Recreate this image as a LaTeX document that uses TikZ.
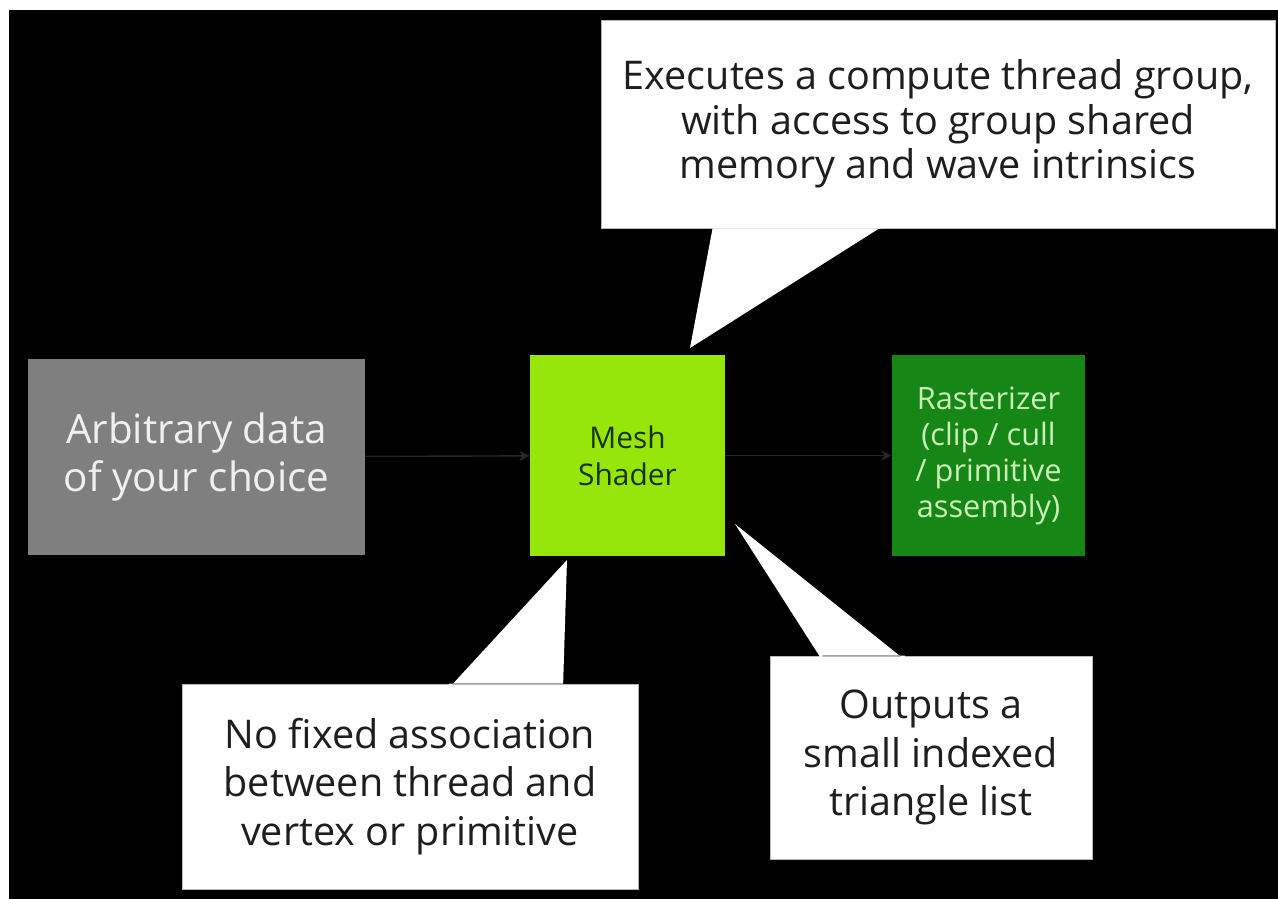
\documentclass[tikz,border=0pt]{standalone}
\usepackage{fontspec}
\setmainfont{Open Sans}
\usepackage{xcolor}
\usepackage{tikz}
\usetikzlibrary{arrows.meta}
\definecolor{datagray}{RGB}{127,127,127}
\definecolor{meshlime}{RGB}{150,230,12}
\definecolor{rastgreen}{RGB}{22,135,22}
\definecolor{rasttext}{RGB}{205,240,185}
\definecolor{meshtext}{RGB}{25,50,0}
\definecolor{notetext}{RGB}{30,30,30}

\begin{document}
\begin{tikzpicture}[x=0.02cm,y=-0.02cm,
    stagebox/.style={rectangle,inner sep=0pt,align=center},
    note/.style={rectangle,fill=white,draw=gray!55,line width=0.5pt,inner sep=0pt,align=center,
        text=notetext,font=\fontsize{22.5}{27.5}\selectfont},
    pointer/.style={fill=white},
    flow/.style={draw=black!85,line width=0.8pt,-{Stealth[length=6pt,width=6pt]}}]
        % Background
        \fill[white] (0,0) rectangle (1278,899);
        \fill[black] (9,10) rectangle (1278,899);
        % Stages
        \node[stagebox,fill=datagray,text=white!94!black,minimum width=6.74cm,minimum height=3.94cm,
            font=\fontsize{23}{27.5}\selectfont] (data) at (196.5,457) {Arbitrary data\\of your choice};
        \node[stagebox,fill=meshlime,text=meshtext,minimum width=3.9cm,minimum height=4.02cm,
            font=\fontsize{17}{21}\selectfont] (mesh) at (627.5,455.5) {Mesh\\Shader};
        \node[stagebox,fill=rastgreen,text=rasttext,minimum width=3.86cm,minimum height=4.02cm,
            font=\fontsize{17.5}{20.5}\selectfont] (rast) at (988.5,455.5) {Rasterizer\\(clip / cull\\/ primitive\\assembly)};
        % Arrows
        \draw[flow] (data) -- (mesh);
        \draw[flow] (mesh) -- (rast);
        % Callouts
        \node[note,minimum width=13.48cm,minimum height=4.16cm,
            font=\fontsize{22.5}{25.2}\selectfont] (group) at (938,124)
            {Executes a compute thread group,\\with access to group shared\\memory and wave intrinsics};
        \node[note,minimum width=9.12cm,minimum height=4.1cm] (assoc) at (410,786.5)
            {No fixed association\\between thread and\\vertex or primitive};
        \node[note,minimum width=6.44cm,minimum height=4.06cm] (output) at (931,757.5)
            {Outputs a\\small indexed\\triangle list};
        % Pointers
        \coordinate (g1) at (713,226);
        \coordinate (g2) at (883,226);
        \coordinate (gtip) at (690,348);
        \coordinate (a1) at (449,688);
        \coordinate (a2) at (563,688);
        \coordinate (atip) at (567,560);
        \coordinate (o1) at (822,660);
        \coordinate (o2) at (905,660);
        \coordinate (otip) at (735,524);
        \fill[pointer] (group.south -| g1) -- (g1) -- (gtip) -- (g2) -- (group.south -| g2) -- cycle;
        \fill[pointer] (assoc.north -| a1) -- (a1) -- (atip) -- (a2) -- (assoc.north -| a2) -- cycle;
        \fill[pointer] (output.north -| o1) -- (o1) -- (otip) -- (o2) -- (output.north -| o2) -- cycle;
\end{tikzpicture}
\end{document}
